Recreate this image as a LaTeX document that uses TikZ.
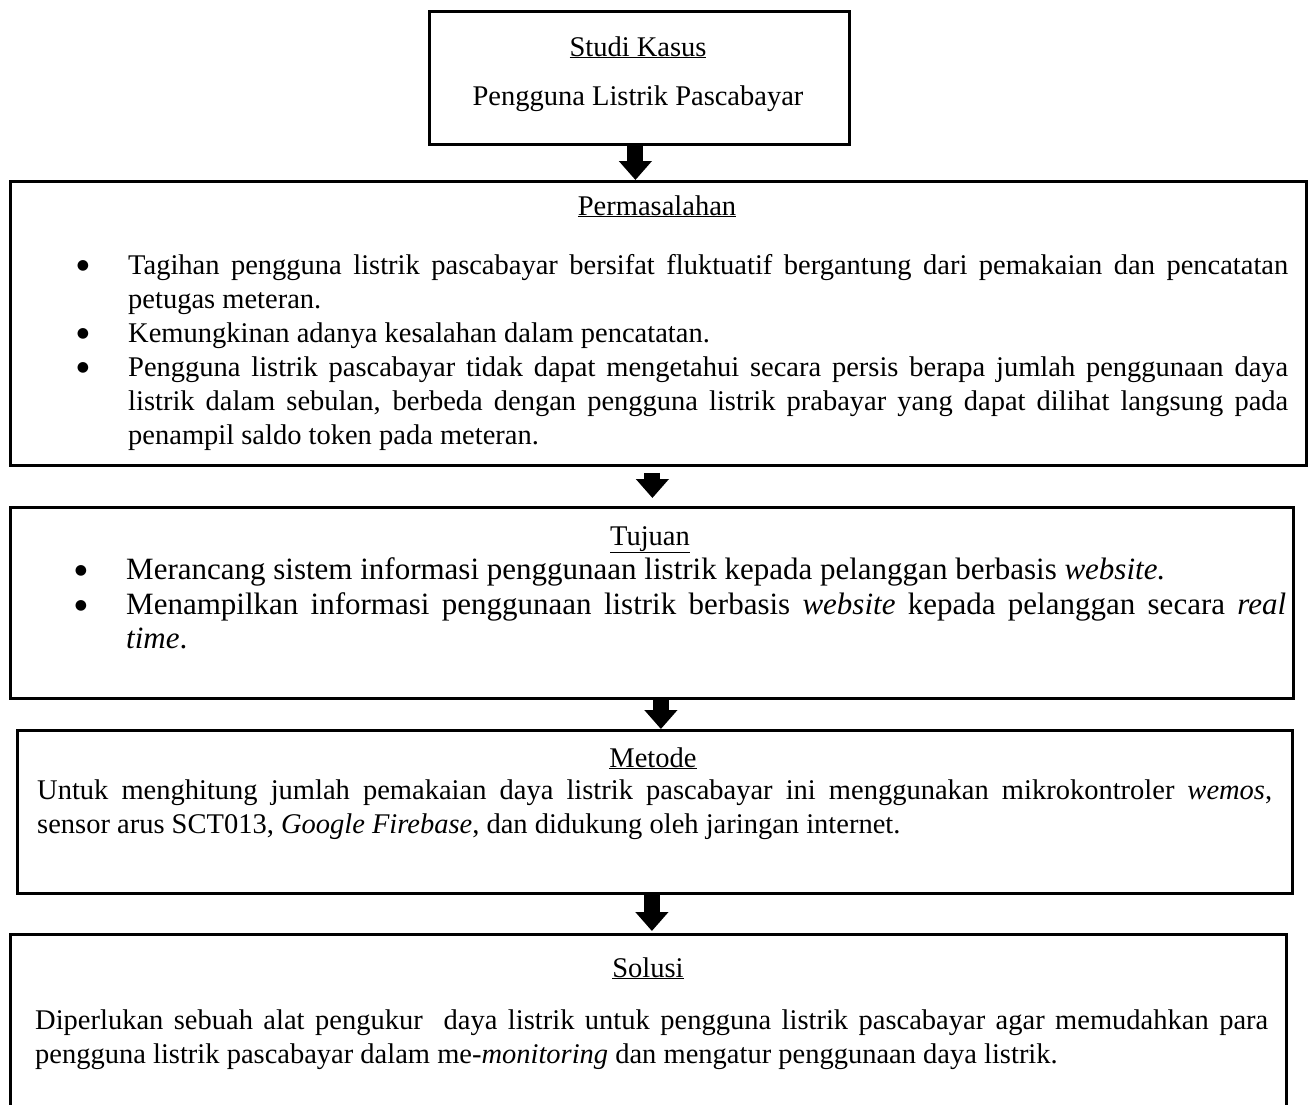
\documentclass[tikz,border=0pt]{standalone}
\usepackage{fontspec}
\setmainfont{Liberation Serif}
\newfontfamily\simbol{DejaVu Sans}
\usetikzlibrary{positioning,arrows.meta}
\setlength{\parindent}{0pt}
\hyphenpenalty=10000
\exhyphenpenalty=10000
\newcommand{\teks}[2]{\fontsize{#1}{#2}\selectfont\spaceskip=\fontdimen2\font plus \fontdimen3\font\relax}
\newcommand{\butir}[1]{\par\noindent\llap{\raisebox{5pt}{\simbol\fontsize{14}{14}\selectfont ●}\hspace{39pt}}#1}

\begin{document}
\begin{tikzpicture}[x=1pt, y=-1pt,
  box/.style={draw, line width=2.8pt, rectangle, anchor=north west, inner sep=0pt},
  head/.style={anchor=base, inner sep=0pt, font=\teks{28.5}{34}},
  body/.style={anchor=north west, inner sep=0pt, align=justify, font=\teks{28.5}{34}},
  arr/.style={line width=16pt, -{Triangle[width=32pt, length=19pt]}}]

\clip (0,0) rectangle (1310,1104);

\node[box, minimum width=420pt, minimum height=133pt] (studi) at (428,10) {};
\node[head] (studiH) at (638,56) {\underline{Studi Kasus}};
\node[head] (studiT) at (638,105) {Pengguna Listrik Pascabayar};

\node[box, minimum width=1296pt, minimum height=284pt] (masalah) at (9,180) {};
\node[head] (masalahH) at (657,215) {\underline{Permasalahan}};
\node[body, text width=1160pt] (masalahT) at (128,240) {%
  \butir{Tagihan pengguna listrik pascabayar bersifat fluktuatif bergantung dari pemakaian dan pencatatan petugas meteran.}
  \butir{Kemungkinan adanya kesalahan dalam pencatatan.}
  \butir{Pengguna listrik pascabayar tidak dapat mengetahui secara persis berapa jumlah penggunaan daya listrik dalam sebulan, berbeda dengan pengguna listrik prabayar yang dapat dilihat langsung pada penampil saldo token pada meteran.}};

\node[box, minimum width=1283pt, minimum height=191pt] (tujuan) at (9,506) {};
\node[head] (tujuanH) at (650,545) {\underline{Tujuan}};
\node[body, text width=1160pt, font=\teks{31}{34.5}] (tujuanT) at (126,545) {%
  \butir{Merancang sistem informasi penggunaan listrik kepada pelanggan berbasis \textit{website.}}
  \butir{Menampilkan informasi penggunaan listrik berbasis \textit{website} kepada pelanggan secara \textit{real time}.}};

\node[box, minimum width=1275pt, minimum height=163pt] (metode) at (16,729) {};
\node[head] (metodeH) at (653,767) {\underline{Metode}};
\node[body, text width=1235pt] (metodeT) at (37,780) {%
  Untuk menghitung jumlah pemakaian daya listrik pascabayar ini menggunakan mikrokontroler \textit{wemos}, sensor arus SCT013, \textit{Google Firebase}, dan didukung oleh jaringan internet.};

\node[box, minimum width=1276pt, minimum height=200pt] (solusi) at (9,933) {};
\node[head] (solusiH) at (648,977) {\underline{Solusi}};
\node[body, text width=1233pt] (solusiT) at (35,1010) {%
  Diperlukan sebuah alat pengukur\ \ daya listrik untuk pengguna listrik pascabayar agar memudahkan para pengguna listrik pascabayar dalam me-\textit{monitoring} dan mengatur penggunaan daya listrik.};

\draw[arr] ([xshift=-4pt]studi.south) -- ([xshift=-4pt]studi.south |- masalah.north);
\draw[arr] ([xshift=-6pt, yshift=-6pt]masalah.south) -- ([xshift=-6pt, yshift=8pt]masalah.south |- tujuan.north);
\draw[arr] ([xshift=9pt]tujuan.south) -- ([xshift=9pt]tujuan.south |- metode.north);
\draw[arr] ([xshift=-3pt]metode.south) -- ([xshift=-3pt, yshift=2pt]metode.south |- solusi.north);
\end{tikzpicture}
\end{document}
